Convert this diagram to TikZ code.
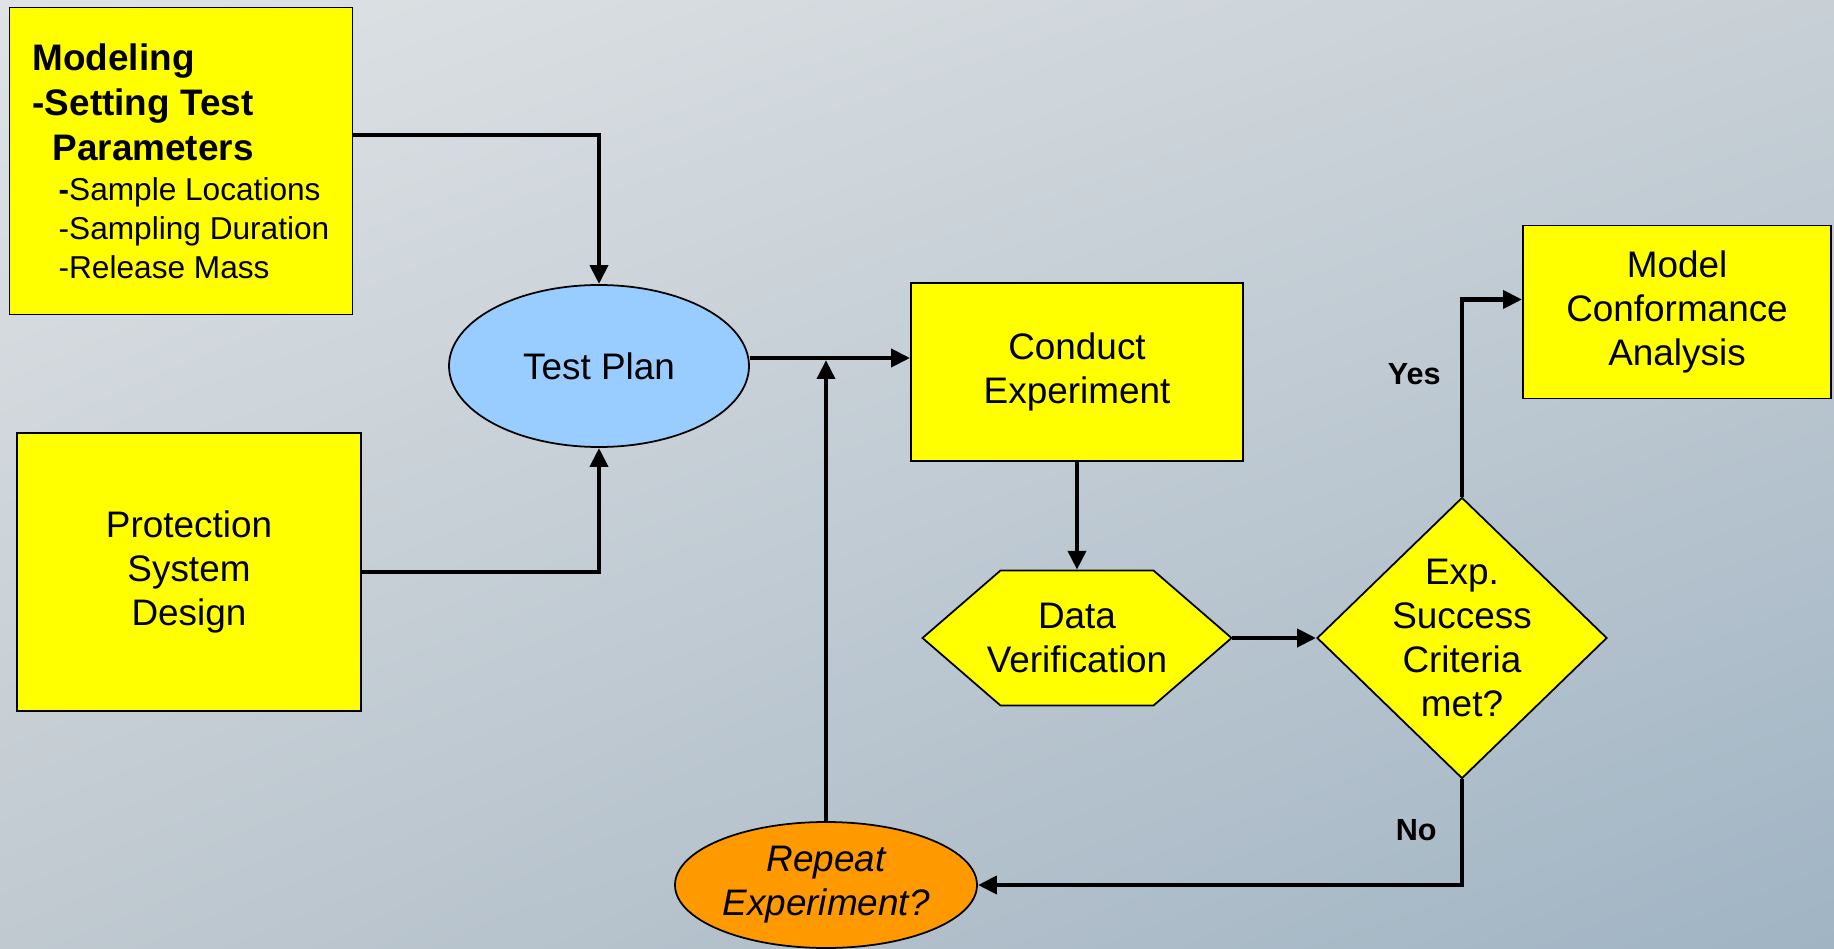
\documentclass[tikz,border=0pt]{standalone}
\usepackage{fontspec}
\setmainfont{Liberation Sans}
\usetikzlibrary{arrows.meta,shapes.geometric,shadings}

\definecolor{boxyellow}{RGB}{255,255,0}
\definecolor{planblue}{RGB}{153,204,255}
\definecolor{reporange}{RGB}{255,153,0}
\definecolor{bgUL}{RGB}{223,227,230}
\definecolor{bgUR}{RGB}{200,208,214}
\definecolor{bgLL}{RGB}{192,201,208}
\definecolor{bgLR}{RGB}{160,180,196}

\newcommand{\mainfnt}{\fontsize{10.5}{12.5}\selectfont}
\newcommand{\modfnt}{\fontsize{10.5}{12.8}\selectfont}
\newcommand{\subfnt}{\fontsize{9}{11}\selectfont}

\begin{document}
\begin{tikzpicture}[x=0.1mm, y=-0.1mm,
	box/.style={rectangle, draw=black, line width=0.5pt, fill=boxyellow, inner sep=0pt, align=center, font=\mainfnt},
	oval/.style={ellipse, draw=black, line width=0.5pt, inner sep=0pt, align=center, font=\mainfnt},
	dia/.style={diamond, draw=black, line width=0.5pt, fill=boxyellow, inner sep=0pt},
	plain/.style={inner sep=0pt, align=center, font=\mainfnt},
	conn/.style={line width=1.35pt, -{Triangle[length=5.4pt,width=5pt]}},
	lbl/.style={inner sep=0pt, font=\fontsize{8.7}{10}\selectfont\bfseries}]

	% background
	\shade[upper left=bgUL, upper right=bgUR, lower left=bgLL, lower right=bgLR] (0,0) rectangle (1834,949);

	\node	(mod)	at	(181,161)	[box, minimum width=34.3mm, minimum height=30.7mm, align=left, font=\modfnt\bfseries]
		{Modeling\\ -Setting Test\\ \hspace*{2mm}Parameters\\[-1.4pt]
		\hspace*{2.6mm}{\subfnt\textbf{-}\mdseries Sample Locations}\\[-1.7pt]
		\hspace*{2.6mm}{\subfnt\mdseries -Sampling Duration}\\[-1.7pt]
		\hspace*{2.6mm}{\subfnt\mdseries -Release Mass}};

	\node	(psd)	at	(189,572)	[box, minimum width=34.4mm, minimum height=27.8mm]	{Protection\\System\\Design};

	\node	(tp)	at	(599,366)	[oval, fill=planblue, minimum width=30mm, minimum height=16.2mm]	{Test Plan};

	\node	(ce)	at	(1077,372)	[box, minimum width=33.2mm, minimum height=17.8mm]	{Conduct\\Experiment};

	% hexagon of the data check
	\coordinate	(dvc)	at	(1077,638);
	\filldraw[draw=black, line width=0.5pt, fill=boxyellow, shift={(dvc)}]
		(-154.5,0) -- (-76.5,-67.5) -- (76.5,-67.5) -- (154.5,0) -- (76.5,67.5) -- (-76.5,67.5) -- cycle;
	\node	(dv)	at	(dvc)	[plain, minimum width=30.9mm, minimum height=13.5mm]	{Data\\Verification};

	\node	(ok)	at	(1462,638)	[dia, minimum width=29mm, minimum height=28.1mm,
		label={[plain]center:{Exp.\\Success\\Criteria\\met?}}]	{};

	\node	(mca)	at	(1677,312)	[box, minimum width=30.8mm, minimum height=17.3mm]	{Model\\Conformance\\Analysis};

	\node	(rep)	at	(826,885)	[oval, fill=reporange, minimum width=30.2mm, minimum height=12.6mm, font=\mainfnt\itshape]	{Repeat\\Experiment?};

	\coordinate	(tpout)	at	([yshift=0.8mm]tp.east);

	\draw[conn]	([yshift=2.6mm]mod.east)	-|	(tp.north);
	\draw[conn]	(psd.east)	-|	(tp.south);
	\draw[conn]	(tpout)	--	(tpout -| ce.west);
	\draw[conn, shorten >=0.2mm]	(rep.north)	--	(rep.north |- tpout);
	\draw[conn]	(ce.south)	--	(dv.north);
	\draw[conn]	(dv.east)	--	(ok.west);
	\draw[conn]	(ok.north)	|-	node[lbl, pos=0.31, left=1.9mm]{Yes}	([yshift=1.25mm]mca.west);
	\draw[conn]	(ok.south)	|-	node[lbl, pos=0.24, left=2.3mm]{No}	(rep.east);

\end{tikzpicture}
\end{document}
